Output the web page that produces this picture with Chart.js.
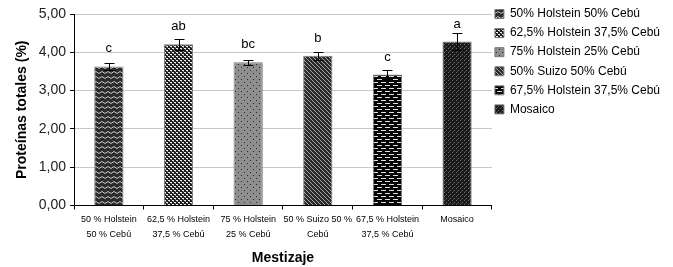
<!DOCTYPE html>
<html>
<head>
<meta charset="utf-8">
<script src="https://cdn.jsdelivr.net/npm/chart.js@4"></script>
<style>
  body { margin: 0; background: #fff; }
  #wrap { width: 673px; height: 267px; }
</style>
</head>
<body>
<div id="wrap"><canvas id="grafico"></canvas></div>
<script>
// Proteínas totales (%) por mestizaje
const mestizajes = [
  "50% Holstein 50% Cebú",
  "62,5% Holstein 37,5% Cebú",
  "75% Holstein 25% Cebú",
  "50% Suizo 50% Cebú",
  "67,5% Holstein 37,5% Cebú",
  "Mosaico"
];
const etiquetasEje = [
  ["50 % Holstein", "50 % Cebú"],
  ["62,5 % Holstein", "37,5 % Cebú"],
  ["75 % Holstein", "25 % Cebú"],
  ["50 % Suizo 50 %", "Cebú"],
  ["67,5 % Holstein", "37,5 % Cebú"],
  ["Mosaico"]
];
const proteinas = [3.63, 4.21, 3.74, 3.91, 3.42, 4.28];
const errores = [0.10, 0.15, 0.06, 0.10, 0.13, 0.23];
const letras = ["c", "ab", "bc", "b", "c", "a"];

// ---- motivos de relleno (tramas tipo Excel) ----
function trama(w, h, dibujar) {
  const c = document.createElement("canvas");
  c.width = w; c.height = h;
  const g = c.getContext("2d");
  dibujar(g);
  return document.createElement("canvas").getContext("2d").createPattern(c, "repeat");
}
const tramas = [
  trama(6, 5, g => { // ondas
    g.fillStyle = "#2b2b2b"; g.fillRect(0, 0, 6, 5);
    g.strokeStyle = "#c8c8c8"; g.lineWidth = 1;
    g.beginPath(); g.moveTo(0, 1.5); g.lineTo(3, 3.5); g.lineTo(6, 1.5); g.stroke();
  }),
  trama(4, 4, g => { // damero blanco
    g.fillStyle = "#1e1e1e"; g.fillRect(0, 0, 4, 4);
    g.fillStyle = "#f0f0f0"; g.fillRect(0, 0, 2, 1); g.fillRect(2, 2, 2, 1);
    g.fillStyle = "#888"; g.fillRect(1, 1, 1, 1); g.fillRect(3, 3, 1, 1);
  }),
  trama(6, 6, g => { // gris con puntos
    g.fillStyle = "#8e8e8e"; g.fillRect(0, 0, 6, 6);
    g.fillStyle = "#2a2a2a"; g.fillRect(1, 1, 1, 1); g.fillRect(4, 4, 1, 1);
  }),
  trama(4, 4, g => { // diagonales
    g.fillStyle = "#2a2a2a"; g.fillRect(0, 0, 4, 4);
    g.fillStyle = "#a8a8a8";
    for (let i = 0; i < 4; i++) g.fillRect(i, i, 1, 1);
  }),
  trama(8, 6, g => { // guiones blancos
    g.fillStyle = "#050505"; g.fillRect(0, 0, 8, 6);
    g.fillStyle = "#dcdcdc"; g.fillRect(1, 1, 5, 1);
    g.fillRect(5, 4, 3, 1); g.fillRect(0, 4, 2, 1);
  }),
  trama(4, 4, g => { // punteado oscuro
    g.fillStyle = "#1a1a1a"; g.fillRect(0, 0, 4, 4);
    g.fillStyle = "#6e6e6e"; g.fillRect(0, 0, 1, 1); g.fillRect(2, 2, 1, 1);
    g.fillStyle = "#444"; g.fillRect(1, 3, 1, 1);
  })
];

// barras de error y letras de significancia
const extras = {
  id: "extras",
  afterDatasetsDraw(chart) {
    const ctx = chart.ctx;
    const y = chart.scales.y;
    const barras = chart.getDatasetMeta(0).data;
    ctx.save();
    ctx.strokeStyle = "#000";
    ctx.lineWidth = 1;
    barras.forEach((b, i) => {
      const x = Math.round(b.x) + 0.5;
      const arriba = Math.round(y.getPixelForValue(proteinas[i] + errores[i])) + 0.5;
      const abajo = Math.round(y.getPixelForValue(proteinas[i] - errores[i])) + 0.5;
      ctx.beginPath();
      ctx.moveTo(x, arriba); ctx.lineTo(x, abajo);
      ctx.moveTo(x - 5, arriba); ctx.lineTo(x + 5, arriba);
      ctx.moveTo(x - 5, abajo); ctx.lineTo(x + 5, abajo);
      ctx.stroke();
    });
    ctx.fillStyle = "#000";
    ctx.font = "13px 'Liberation Sans', Arial, sans-serif";
    ctx.textAlign = "center";
    ctx.textBaseline = "alphabetic";
    barras.forEach((b, i) => ctx.fillText(letras[i], b.x, b.y - 14));
    ctx.restore();
  }
};

Chart.defaults.font.family = "'Liberation Sans', Arial, sans-serif";
Chart.defaults.color = "#000";

new Chart(document.getElementById("grafico"), {
  type: "bar",
  data: {
    labels: etiquetasEje,
    datasets: [{
      data: proteinas,
      backgroundColor: tramas,
      borderColor: "#7a7a7a",
      borderWidth: 1,
      categoryPercentage: 1,
      barPercentage: 0.42
    }]
  },
  options: {
    responsive: true,
    maintainAspectRatio: false,
    animation: false,
    layout: { padding: { top: 5, right: 3, left: 14, bottom: 0 } },
    plugins: {
      tooltip: { enabled: false },
      legend: {
        position: "right",
        align: "start",
        maxWidth: 200,
        labels: {
          boxWidth: 9,
          boxHeight: 9,
          padding: 3,
          color: "#222",
          font: { size: 12, lineHeight: 1.34 },
          // texto en arreglo: la altura de línea fija el espaciado vertical
          generateLabels: () => mestizajes.map((m, i) => ({
            text: [m],
            fillStyle: tramas[i],
            strokeStyle: "#7a7a7a",
            lineWidth: 1,
            index: i
          }))
        }
      }
    },
    scales: {
      x: {
        border: { color: "#000" },
        grid: { drawOnChartArea: false, tickLength: 4, tickColor: "#000", offset: true },
        ticks: { autoSkip: false, maxRotation: 0, padding: 3, font: { size: 9, lineHeight: 1.65 } },
        title: { display: true, text: "Mestizaje", font: { size: 14, weight: "bold" }, padding: { top: 5, bottom: 0 } }
      },
      y: {
        min: 0,
        max: 5,
        border: { color: "#000" },
        grid: { color: "#c8c8c8", tickLength: 4, tickColor: "#000" },
        afterFit: s => { s.paddingTop = 14; },
        ticks: {
          stepSize: 1,
          padding: 4,
          font: { size: 14 },
          color: "#222",
          callback: v => v.toFixed(2).replace(".", ",")
        },
        title: { display: true, text: "Proteínas totales (%)", font: { size: 14, weight: "bold" }, padding: { top: 0, bottom: 4 } }
      }
    }
  },
  plugins: [extras]
});
</script>
</body>
</html>
